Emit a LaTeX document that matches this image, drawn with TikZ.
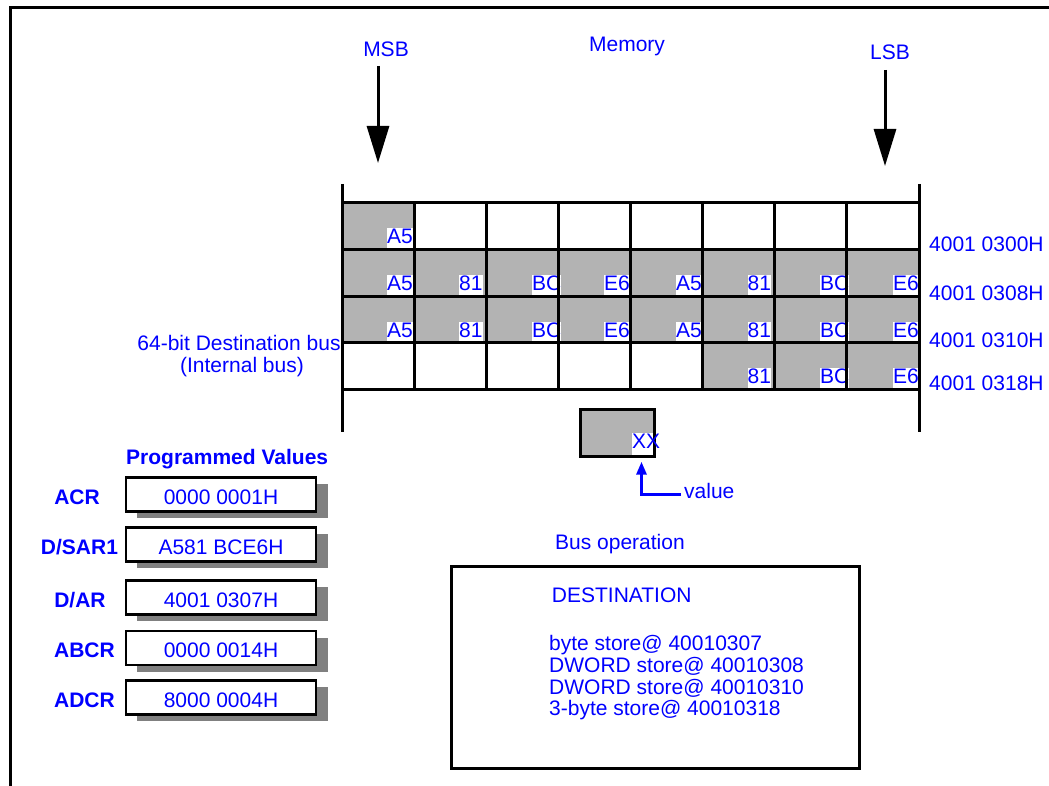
\documentclass[tikz,border=0pt]{standalone}
\usepackage{fontspec}
\setmainfont{Liberation Sans}
\usetikzlibrary{arrows.meta}
\definecolor{txtblue}{RGB}{0,0,255}
\definecolor{cellgray}{RGB}{179,179,179}
\definecolor{shadowgray}{RGB}{128,128,128}

\begin{document}
\begin{tikzpicture}[x=1pt,y=-1pt,
  every node/.style={font=\fontsize{21}{25}\selectfont, text=txtblue, inner sep=0pt},
  heavy/.style={line width=3pt},
  bytecell/.style={anchor=base west, fill=white, text height=15.5pt, text depth=4pt},
  regbox/.style={draw=black, line width=2.5pt, fill=white},
  regshadow/.style={fill=shadowgray},
  reglabel/.style={anchor=base, font=\fontsize{21}{25}\selectfont\bfseries},
  addr/.style={anchor=base west},
  bigarrow/.style={heavy, -{Triangle[length=37pt,width=22pt]}},
]
\useasboundingbox (0,0) rectangle (1049,786);

% page frame (top and left edges)
\draw[heavy] (1049,7.5) -- (10,7.5) -- (10,786);

% headings and bit-order arrows
\node[anchor=base] (memory) at (627,51.5) {Memory};
\node[anchor=base] (msb) at (386,57) {MSB};
\node[anchor=base] (lsb) at (890,60) {LSB};
\coordinate (msbtop) at (378,66);
\coordinate (msbtip) at (378,163);
\coordinate (lsbtop) at (885,70);
\coordinate (lsbtip) at (885,166);
\draw[bigarrow] (msbtop) -- (msbtip);
\draw[bigarrow] (lsbtop) -- (lsbtip);

% bus caption (drawn first so the grid overlaps its end)
\node[anchor=base] (busl1) at (239,350) {64-bit Destination bus};
\node[anchor=base] (busl2) at (242,372) {(Internal bus)};

% written bytes
\fill[cellgray] (342,203) rectangle (414.1,249.5);
\fill[cellgray] (342,249.5) rectangle (919,342.5);
\fill[cellgray] (702.6,342.5) rectangle (919,389);

\node[bytecell] (b00) at (387,244) {A5};
\foreach \r/\y in {1/290.5,2/337}{
  \foreach \c/\t/\x in {0/A5/387,1/81/459,2/BC/532,3/E6/604,4/A5/676,5/81/747.5,6/BC/820,7/E6/893}{
    \node[bytecell] (b\r\c) at (\x,\y) {\t};
  }
}
\foreach \c/\t/\x in {5/81/747.5,6/BC/820,7/E6/893}{
  \node[bytecell] (b3\c) at (\x,383.5) {\t};
}

% memory grid
\foreach \y in {203,249.5,296,342.5,389}{
  \draw[heavy] (342,\y) -- (919,\y);
}
\foreach \i in {1,...,7}{
  \draw[heavy] ({342+72.125*\i},203) -- ({342+72.125*\i},389);
}
\draw[heavy] (342,184) -- (342,432);
\draw[heavy] (919,184) -- (919,432);

% row addresses
\node[addr] (a300) at (929,251.7) {4001 0300H};
\node[addr] (a308) at (929,300) {4001 0308H};
\node[addr] (a310) at (929,347) {4001 0310H};
\node[addr] (a318) at (929,390) {4001 0318H};

% source value register
\fill[cellgray] (580.7,409) rectangle (654.3,456);
\fill[white] (632,433) rectangle (654.3,456);
\draw[heavy] (580.7,409) rectangle (654.3,456);
\node[anchor=base west] (xx) at (632,448.3) {XX};
\node[anchor=base west] (value) at (684,498.3) {value};
\coordinate (valstart) at (681,494.3);
\coordinate (xxpt) at (641.5,461.7);
\draw[draw=txtblue, heavy, -{Triangle[length=13pt,width=10pt]}] (valstart) -| (xxpt);

% programmed register values
\node[anchor=base west, font=\fontsize{21}{25}\selectfont\bfseries] (progv) at (126,464) {Programmed Values};
\foreach \i/\top/\lx/\name/\val in {1/477.7/77/ACR/0000 0001H,
                                    2/527.7/79.5/D\slash SAR1/A581 BCE6H,
                                    3/580.7/80/D\slash AR/4001 0307H,
                                    4/631/84.5/ABCR/0000 0014H,
                                    5/680.7/84.5/ADCR/8000 0004H}{
  \fill[regshadow] (137,\top+6.5) rectangle (328,\top+40.5);
  \draw[regbox] (126,\top) rectangle (316,\top+34);
  \node[reglabel] (reg\i) at (\lx,\top+26.3) {\name};
  \node[anchor=base] (regval\i) at (221,\top+26.3) {\val};
}

% bus operation summary
\node[anchor=base west] (busop) at (555,549.3) {Bus operation};
\draw[heavy] (451,566) rectangle (859,768);
\node[anchor=base west] (dest) at (551.7,602.7) {DESTINATION};
\node[anchor=base west] (op1) at (549,650) {byte store@ 40010307};
\node[anchor=base west] (op2) at (549,672.7) {DWORD store@ 40010308};
\node[anchor=base west] (op3) at (549,694) {DWORD store@ 40010310};
\node[anchor=base west] (op4) at (549,715.3) {3-byte store@ 40010318};
\end{tikzpicture}
\end{document}
